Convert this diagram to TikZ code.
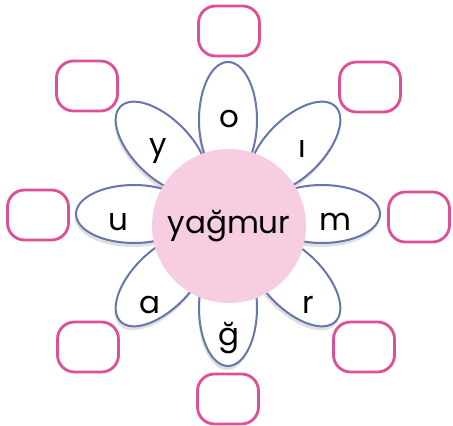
\documentclass[tikz,border=0pt]{standalone}
\usepackage{fontspec}
\setmainfont{Poppins}
\usetikzlibrary{shadows}
\definecolor{petalblue}{HTML}{6577AD}
\definecolor{boxpink}{HTML}{DE4F97}
\definecolor{heartpink}{HTML}{F7CDE1}
\begin{document}
\begin{tikzpicture}[x=1pt,y=1pt,
    petal/.style={draw=petalblue, line width=2pt, fill=white,
      drop shadow={opacity=0.25, shadow xshift=-1pt, shadow yshift=-4pt}},
    letter/.style={font=\fontsize{31}{31}\selectfont},
    answerbox/.style={draw=boxpink, line width=2.8pt, rounded corners=17pt,
      minimum width=61pt, minimum height=50pt}]
    \useasboundingbox (0,0) rectangle (453,426);
    % petals
    \foreach \a in {0,45,...,315}
      \draw[petal, rotate around={\a:(228,212)}] (322,212) ellipse [x radius=58, y radius=29];

    % middle
    \node[circle, fill=heartpink, minimum size=154pt, inner sep=0pt, letter] (heart) at (229,200) {yağmur};

    % letters
    \node[letter] (o) at (229,307) {o};
    \node[letter] (i) at (302,277) {ı};
    \node[letter] (m) at (335,204) {m};
    \node[letter] (r) at (308,121) {r};
    \node[letter] (g) at (229,88) {ğ};
    \node[letter] (a) at (150,121) {a};
    \node[letter] (u) at (118,204) {u};
    \node[letter] (y) at (158,275) {y};

    % boxes
    \node[answerbox] (b1) at (229,395) {};
    \node[answerbox] (b2) at (370,339) {};
    \node[answerbox] (b3) at (419,209) {};
    \node[answerbox] (b4) at (364,79) {};
    \node[answerbox] (b5) at (228,27) {};
    \node[answerbox] (b6) at (88,79) {};
    \node[answerbox] (b7) at (38,211) {};
    \node[answerbox] (b8) at (87,340) {};
\end{tikzpicture}
\end{document}
